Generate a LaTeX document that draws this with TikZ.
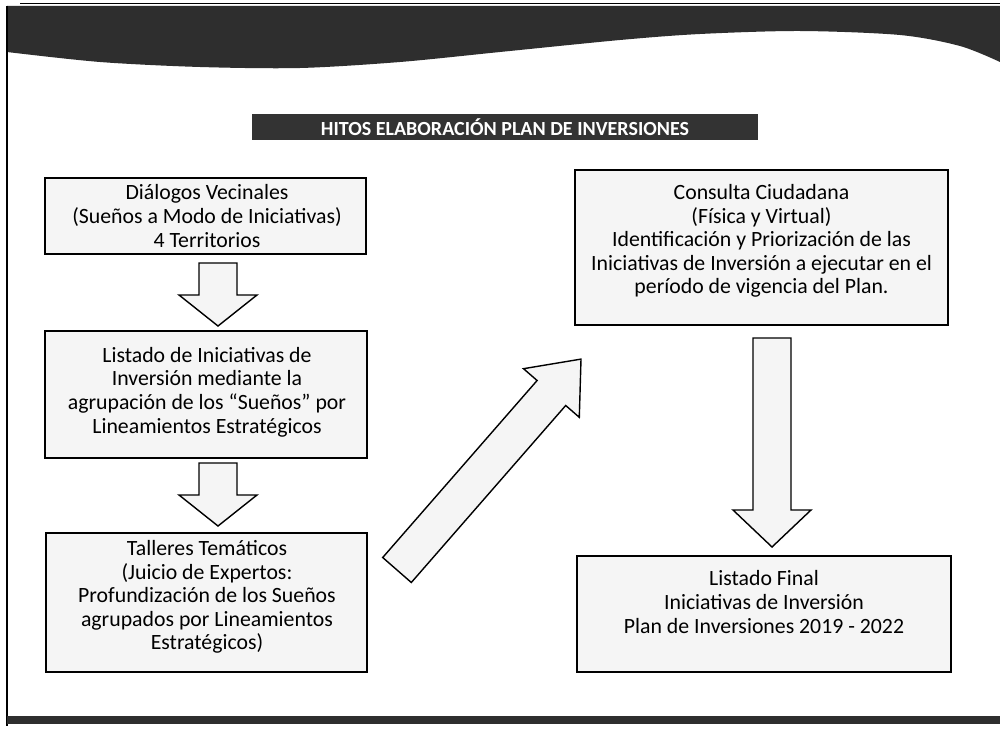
\documentclass[tikz,border=0pt]{standalone}
\usepackage{fontspec}
\setmainfont{Carlito}
\begin{document}
\begin{tikzpicture}[x=0.02cm,y=-0.02cm,
  boxshape/.style={draw=black, line width=0.8pt, fill=black!4, inner sep=0pt},
  boxtext/.style={align=center, inner sep=0pt, font=\fontsize{12.4}{13.4}\selectfont},
  blockarrow/.style={draw=black, line width=0.8pt, fill=black!4, line join=miter},
  titlebar/.style={fill=black!80, text=white, inner sep=0pt, minimum width=10.12cm, minimum height=0.52cm, font=\bfseries\fontsize{11.4}{13}\selectfont}]
\useasboundingbox (0,0) rectangle (1000,740);
\fill[white] (0,0) rectangle (1000,740);

% top wavy band
\fill[black!82] (7,6) -- (1000,6) -- plot[smooth] coordinates {(1000,62) (960,46) (900,35) (800,31) (700,34) (620,40) (500,52) (400,62) (300,68) (200,67) (100,62) (7,52)} -- cycle;
\draw[line width=0.5pt] (20,3) -- (1000,3);
% left frame line
\draw[line width=0.9pt] (7,6) -- (7,726);
% bottom band
\fill[black!82] (7,716) rectangle (1000,724);

% title
\node[titlebar] (title) at (505,127) {HITOS ELABORACIÓN PLAN DE INVERSIONES};

% left column boxes
\node[boxshape, minimum width=6.42cm, minimum height=1.52cm] (d1) at (205.5,216) {};
\node[boxtext] (t1) at (207,216) {Diálogos Vecinales\\(Sueños a Modo de Iniciativas)\\4 Territorios};

\node[boxshape, minimum width=6.44cm, minimum height=2.54cm] (d2) at (206,394.5) {};
\node[boxtext] (t2) at (207,392) {Listado de Iniciativas de\\Inversión mediante la\\agrupación de los “Sueños” por\\Lineamientos Estratégicos};

\node[boxshape, minimum width=6.42cm, minimum height=2.78cm] (d3) at (206.5,602.5) {};
\node[boxtext] (t3) at (207,597) {Talleres Temáticos\\(Juicio de Expertos:\\Profundización de los Sueños\\agrupados por Lineamientos\\Estratégicos)};

% right column boxes
\node[boxshape, minimum width=7.46cm, minimum height=3.1cm] (c4) at (761.5,247.5) {};
\node[boxtext] (t4) at (761.5,241) {Consulta Ciudadana\\(Física y Virtual)\\Identificación y Priorización de las\\Iniciativas de Inversión a ejecutar en el\\período de vigencia del Plan.};

\node[boxshape, minimum width=7.48cm, minimum height=2.32cm] (c5) at (764,614) {};
\node[boxtext] (t5) at (764,602) {Listado Final\\Iniciativas de Inversión\\Plan de Inversiones 2019 - 2022};

% block arrows
\draw[blockarrow] (199,263) -- (237,263) -- (237,295) -- (257,295) -- (218,326) -- (179,295) -- (199,295) -- cycle;
\draw[blockarrow] (199,463) -- (237,463) -- (237,495) -- (257,495) -- (218,526) -- (179,495) -- (199,495) -- cycle;
\draw[blockarrow] (753,338) -- (791,338) -- (791,510) -- (811,510) -- (772,547) -- (733,510) -- (753,510) -- cycle;
\draw[blockarrow] (382.7,557.5) -- (537.1,380.5) -- (523.5,368.7) -- (581,359.1) -- (579.3,417.3) -- (565.7,405.5) -- (411.3,582.5) -- cycle;
\end{tikzpicture}
\end{document}
